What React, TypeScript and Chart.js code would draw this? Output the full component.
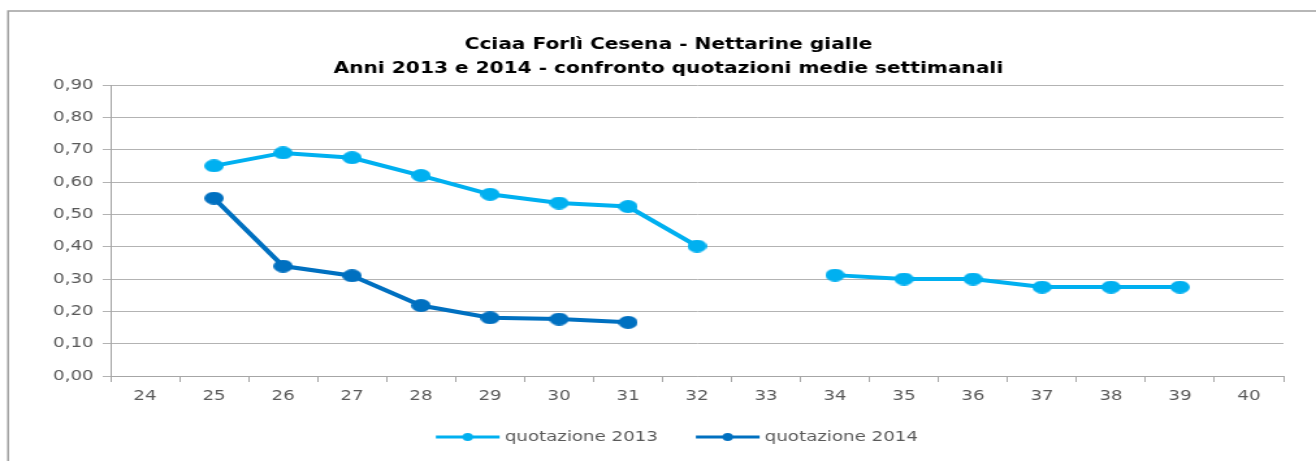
import React, { useEffect, useRef } from 'react';
import { Chart, registerables } from 'chart.js';

Chart.register(...registerables);

const TITLE_LINES = [
  'Cciaa Forlì Cesena - Nettarine gialle',
  'Anni 2013 e 2014 - confronto quotazioni medie settimanali',
];
const WEEKS = ['24', '25', '26', '27', '28', '29', '30', '31', '32', '33', '34', '35', '36', '37', '38', '39', '40'];
const QUOT_2013 = [null, 0.65, 0.69, 0.675, 0.62, 0.562, 0.535, 0.524, 0.402, null, 0.312, 0.3, 0.3, 0.275, 0.275, 0.275, null];
const QUOT_2014 = [null, 0.55, 0.34, 0.31, 0.218, 0.18, 0.176, 0.166, null, null, null, null, null, null, null, null, null];
const SERIES_LABELS = ['quotazione 2013', 'quotazione 2014'];
const SERIES_COLORS = ['#00B0F0', '#0070C0'];
const Y_MIN = 0;
const Y_MAX = 0.9;
const Y_STEP = 0.1;

// internal canvas size; displayed stretched horizontally to 1316px like the reference
const CW = 1012;
const CH = 461;
const FONT = 'DejaVu Sans';
const GREY_TEXT = '#595959';

function ellipseImage(color: string, w: number, h: number) {
  const c = document.createElement('canvas');
  c.width = w;
  c.height = h;
  const ctx = c.getContext('2d')!;
  ctx.fillStyle = color;
  ctx.beginPath();
  ctx.ellipse(w / 2, h / 2, w / 2, h / 2, 0, 0, Math.PI * 2);
  ctx.fill();
  return c;
}

function legendImage(color: string, w: number, h: number, lineStart: number, lineEnd: number) {
  const c = document.createElement('canvas');
  c.width = w;
  c.height = h;
  const ctx = c.getContext('2d')!;
  ctx.strokeStyle = color;
  ctx.lineWidth = 3;
  ctx.beginPath();
  ctx.moveTo(lineStart, h / 2);
  ctx.lineTo(lineEnd, h / 2);
  ctx.stroke();
  ctx.fillStyle = color;
  ctx.beginPath();
  ctx.arc((lineStart + lineEnd) / 2, h / 2, 4, 0, Math.PI * 2);
  ctx.fill();
  return c;
}

export default function App() {
  const ref = useRef<HTMLCanvasElement | null>(null);

  useEffect(() => {
    if (!ref.current) return;
    Chart.defaults.font.family = FONT;
    const points = SERIES_COLORS.map((c) => ellipseImage(c, 15, 13));
    const markers = SERIES_COLORS.map((c) => legendImage(c, 67, 10, 17, 66));
    const baseLabels = Chart.defaults.plugins.legend.labels.generateLabels;

    const outerBorder = {
      id: 'outerBorder',
      beforeDraw(chart: any) {
        const ctx = chart.ctx;
        ctx.save();
        ctx.strokeStyle = '#A0A0A0';
        ctx.lineWidth = 1.5;
        ctx.beginPath();
        ctx.moveTo(6.2, CH);
        ctx.lineTo(6.2, 11);
        ctx.lineTo(CW, 11);
        ctx.stroke();
        ctx.restore();
      },
    };

    const chart = new Chart(ref.current, {
      type: 'line',
      data: {
        labels: WEEKS,
        datasets: [
          {
            label: SERIES_LABELS[0],
            data: QUOT_2013,
            borderColor: SERIES_COLORS[0],
            backgroundColor: SERIES_COLORS[0],
            borderWidth: 4,
            pointStyle: points[0] as any,
            pointRadius: 7,
            spanGaps: false,
            tension: 0,
          },
          {
            label: SERIES_LABELS[1],
            data: QUOT_2014,
            borderColor: SERIES_COLORS[1],
            backgroundColor: SERIES_COLORS[1],
            borderWidth: 4,
            pointStyle: points[1] as any,
            pointRadius: 7,
            spanGaps: false,
            tension: 0,
          },
        ],
      },
      options: {
        animation: false,
        responsive: false,
        events: [],
        layout: { padding: { left: 41, right: 25, top: 0, bottom: 7 } },
        plugins: {
          title: {
            display: true,
            text: TITLE_LINES,
            color: '#000000',
            font: { family: FONT, size: 15.5, weight: 'bold', lineHeight: 24 / 15.5 },
            padding: { top: 33, bottom: 4 },
          },
          legend: {
            display: true,
            position: 'bottom',
            labels: {
              usePointStyle: true,
              pointStyleWidth: 59,
              padding: 16.2,
              color: GREY_TEXT,
              font: { family: FONT, size: 14 },
              generateLabels: (c: any) =>
                baseLabels(c).map((l: any, i: number) => ({ ...l, pointStyle: markers[i] })),
            },
          },
          tooltip: { enabled: false },
        },
        scales: {
          x: {
            type: 'category',
            offset: true,
            grid: {
              display: true,
              drawOnChartArea: false,
              drawTicks: true,
              tickLength: 6,
              offset: true,
              color: '#A6A6A6',
            },
            border: { display: true, color: '#A6A6A6', width: 1 },
            ticks: {
              color: GREY_TEXT,
              font: { family: FONT, size: 14 },
              padding: 6,
              autoSkip: false,
              maxRotation: 0,
            },
            afterFit: (s: any) => {
              s.height = 37.8;
            },
          },
          y: {
            min: Y_MIN,
            max: Y_MAX,
            ticks: {
              stepSize: Y_STEP,
              color: GREY_TEXT,
              font: { family: FONT, size: 14 },
              padding: 7,
              callback: (v: any) => Number(v).toFixed(2).replace('.', ','),
            },
            grid: { color: '#B3B3B3', tickLength: 6, drawTicks: true },
            border: { display: true, color: '#A6A6A6', width: 1 },
            afterFit: (s: any) => {
              s.width = 44;
            },
          },
        },
      },
      plugins: [outerBorder],
    } as any);

    return () => chart.destroy();
  }, []);

  return (
    <div style={{ position: 'fixed', left: 0, top: 0, width: 1316, height: 461, background: '#ffffff' }}>
      <canvas
        ref={ref}
        width={CW}
        height={CH}
        style={{ display: 'block', width: '1316px', height: '461px' }}
      />
    </div>
  );
}
